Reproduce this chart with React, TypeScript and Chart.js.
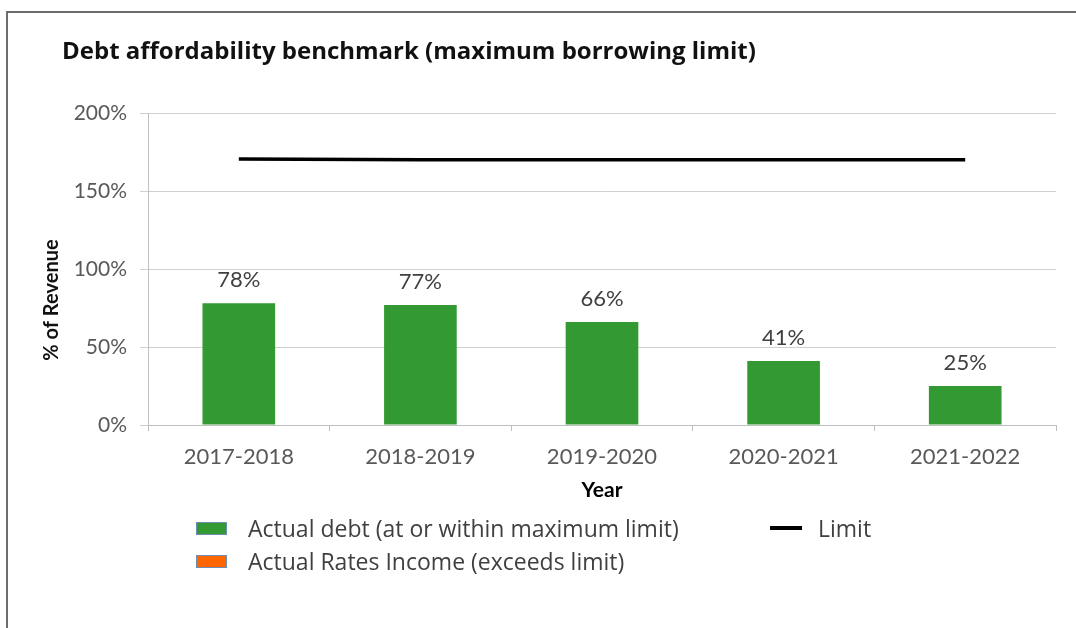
import React, { useEffect, useRef } from "react";
import { Chart, registerables } from "chart.js";

Chart.register(...registerables);

const categories = ["2017-2018", "2018-2019", "2019-2020", "2020-2021", "2021-2022"];
const actualDebt = [78, 77, 66, 41, 25];
const ratesIncomeExceeds: (number | null)[] = [null, null, null, null, null];
const limitValues = [170.5, 170, 170, 170, 170];
const yMin = 0;
const yMax = 200;
const yStep = 50;

const chartTitle = "Debt affordability benchmark (maximum borrowing limit)";
const yAxisTitle = "% of Revenue";
const xAxisTitle = "Year";
const legendDebt = "Actual debt (at or within maximum limit)";
const legendRates = "Actual Rates Income (exceeds limit)";
const legendLimit = "Limit";

const FONT = "Lato, 'Open Sans', sans-serif";
const FONT2 = "'Open Sans', Lato, sans-serif";
const GREEN = "#339933";
const ORANGE = "#ff6600";

const textPlugin = {
  id: "customText",
  afterDatasetsDraw(chart: any) {
    const ctx = chart.ctx as CanvasRenderingContext2D;
    const meta = chart.getDatasetMeta(0);
    ctx.save();
    ctx.font = `22px ${FONT}`;
    ctx.fillStyle = "#404040";
    ctx.textAlign = "center";
    ctx.textBaseline = "middle";
    meta.data.forEach((bar: any, i: number) => {
      ctx.fillText(actualDebt[i] + "%", bar.x, bar.y - 23);
    });
    ctx.restore();
  },
  afterDraw(chart: any) {
    const ctx = chart.ctx as CanvasRenderingContext2D;
    ctx.save();
    ctx.font = `bold 24px ${FONT2}`;
    ctx.fillStyle = "#111111";
    ctx.textAlign = "left";
    ctx.textBaseline = "middle";
    ctx.fillText(chartTitle, 62, 52);
    ctx.translate(52, 300);
    ctx.rotate(-Math.PI / 2);
    ctx.font = `bold 20px ${FONT}`;
    ctx.textAlign = "center";
    ctx.fillText(yAxisTitle, 0, 0);
    ctx.restore();
  },
};

export default function App() {
  const canvasRef = useRef<HTMLCanvasElement | null>(null);

  useEffect(() => {
    const canvas = canvasRef.current;
    if (!canvas) return;
    const chart = new Chart(canvas, {
      type: "bar",
      data: {
        labels: categories,
        datasets: [
          {
            type: "bar",
            label: legendDebt,
            data: actualDebt,
            backgroundColor: GREEN,
            borderWidth: 0,
            barPercentage: 0.4,
            categoryPercentage: 1,
            grouped: false,
            order: 2,
          } as any,
          {
            type: "bar",
            label: legendRates,
            data: ratesIncomeExceeds,
            backgroundColor: ORANGE,
            borderWidth: 0,
            barPercentage: 0.4,
            categoryPercentage: 1,
            grouped: false,
            order: 2,
          } as any,
          {
            type: "line",
            label: legendLimit,
            data: limitValues,
            borderColor: "#000000",
            borderWidth: 3.5,
            pointRadius: 0,
            fill: false,
            tension: 0,
            order: 0,
          } as any,
        ],
      },
      options: {
        animation: false,
        responsive: false,
        maintainAspectRatio: false,
        events: [],
        layout: { padding: { top: 113, right: 20, bottom: 120, left: 20 } },
        plugins: {
          legend: { display: false },
          title: { display: false },
          tooltip: { enabled: false },
        },
        scales: {
          x: {
            type: "category",
            offset: true,
            grid: {
              display: true,
              offset: true,
              drawOnChartArea: false,
              drawTicks: true,
              tickLength: 6,
              color: "#bfbfbf",
            },
            border: { display: true, color: "#bfbfbf", width: 1 },
            ticks: {
              color: "#595959",
              font: { family: FONT, size: 22 },
              padding: 13,
              maxRotation: 0,
            },
            title: {
              display: true,
              text: xAxisTitle,
              color: "#000000",
              font: { family: FONT, size: 21, weight: "bold" },
              padding: { top: 0, bottom: 5 },
            },
            afterFit(axis: any) {
              axis.height = 628 - 120 - 425;
            },
          },
          y: {
            min: yMin,
            max: yMax,
            grid: {
              color: "#d0d0d0",
              drawTicks: true,
              tickLength: 8,
            },
            border: { display: true, color: "#bfbfbf", width: 1 },
            ticks: {
              stepSize: yStep,
              color: "#595959",
              font: { family: FONT, size: 21 },
              padding: 13,
              callback: (v: any) => v + "%",
            },
            afterFit(axis: any) {
              axis.width = 148 - 20;
            },
          },
        },
      },
      plugins: [textPlugin],
    } as any);
    return () => chart.destroy();
  }, []);

  const legendText: React.CSSProperties = {
    position: "absolute",
    fontFamily: FONT2,
    fontSize: "23px",
    lineHeight: "26px",
    color: "#404040",
    whiteSpace: "nowrap",
  };

  return (
    <div
      style={{
        position: "fixed",
        left: 0,
        top: 0,
        width: 1076,
        height: 628,
        background: "#ffffff",
        overflow: "hidden",
      }}
    >
      <canvas ref={canvasRef} width={1076} height={628} style={{ position: "absolute", left: 0, top: 0 }} />
      <div
        style={{
          position: "absolute",
          left: 6,
          top: 11,
          width: 1080,
          height: 640,
          borderLeft: "2px solid #6d6d6d",
          borderTop: "2px solid #6d6d6d",
          pointerEvents: "none",
        }}
      />
      <div style={{ position: "absolute", left: 196, top: 522, width: 29, height: 11, background: GREEN, border: "1px solid #6f8fb0" }} />
      <div style={{ ...legendText, left: 248, top: 515 }}>{legendDebt}</div>
      <div style={{ position: "absolute", left: 196, top: 555, width: 29, height: 11, background: ORANGE, border: "1px solid #6f8fb0" }} />
      <div style={{ ...legendText, left: 248, top: 548 }}>{legendRates}</div>
      <div style={{ position: "absolute", left: 770, top: 526, width: 32, height: 4, background: "#000000" }} />
      <div style={{ ...legendText, left: 818, top: 515 }}>{legendLimit}</div>
    </div>
  );
}
